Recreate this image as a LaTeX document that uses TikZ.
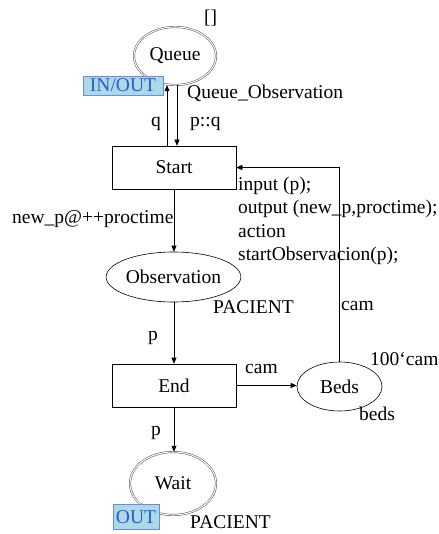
\documentclass[tikz,border=0pt]{standalone}
\usepackage{fontspec}
\setmainfont{Liberation Serif}
\usetikzlibrary{arrows.meta,shapes.geometric}
\definecolor{tagfill}{RGB}{173,216,230}
\definecolor{tagtext}{RGB}{40,90,220}
\tikzset{
  every node/.style={font=\fontsize{19.5}{23.5}\selectfont, inner sep=0pt},
  place/.style={ellipse, draw, line width=0.6pt},
  portplace/.style={ellipse, draw=black!75, double, double distance=1.1pt, line width=0.45pt},
  trans/.style={rectangle, draw, line width=0.6pt, minimum width=124pt, minimum height=43pt},
  tag/.style={rectangle, draw=tagtext!70, fill=tagfill, text=tagtext, line width=0.6pt},
  lbl/.style={anchor=base west},
  arc/.style={draw, line width=0.6pt, -{Triangle[length=6pt,width=5pt]}},
}
\begin{document}
\begin{tikzpicture}[x=1pt,y=-1pt]
\useasboundingbox (0,0) rectangle (438,534);

% places and transitions
\node[portplace, minimum width=82pt, minimum height=58pt] (queue) at (175,56) {Queue};
\node[trans] (start) at (174,167.5) {Start};
\node[place, minimum width=107pt, minimum height=50pt] (obs) at (173.5,277) {Observation};
\node[trans] (end) at (174,385.5) {End};
\node[place, minimum width=85pt, minimum height=49pt] (beds) at (339.5,386.5) {Beds};
\node[portplace, minimum width=86pt, minimum height=63pt] (wait) at (173,483.5) {Wait};

% port tags
\node[tag, minimum width=80pt, minimum height=19pt] (inout) at (123,85.5) {IN/OUT};
\node[tag, minimum width=46pt, minimum height=25pt] (outtag) at (136,517) {OUT};

% arcs
\draw[arc] ([xshift=-7pt]start.north) -- ([xshift=-8pt]queue.south);
\draw[arc] ([xshift=2pt]queue.south) -- ([xshift=3pt]start.north);
\draw[arc] (start.south) -- (obs.north -| start.south);
\draw[arc] (obs.south -| end.north) -- (end.north);
\draw[arc] (end.east) -- (beds.west |- end.east);
\draw[arc] (end.south) -- (wait.north -| end.south);
\draw[arc] (beds.north) |- (start.east);

% inscriptions
\node[lbl] (init) at (204,23.5) {[]};
\node[lbl] (qtype) at (187,99) {Queue\_Observation};
\node[lbl] (pq) at (190,127) {p::q};
\node[lbl] (q) at (151,127) {q};
\node[lbl] (newp) at (12,223) {new\_p@++proctime};
\node[anchor=north west, align=left] (code) at (238,176.5)
  {input (p);\\output (new\_p,proctime);\\action\\startObservacion(p);};
\node[lbl] (obstype) at (213,313) {PACIENT};
\node[lbl] (camup) at (341,310) {cam};
\node[lbl] (p1) at (148,340) {p};
\node[lbl] (bedsinit) at (370,365) {100\symbol{"60}cam};
\node[lbl] (camright) at (245,373) {cam};
\node[lbl] (bedstype) at (359,420) {beds};
\node[lbl] (p2) at (151,435) {p};
\node[lbl] (waittype) at (190,528) {PACIENT};
\end{tikzpicture}
\end{document}
